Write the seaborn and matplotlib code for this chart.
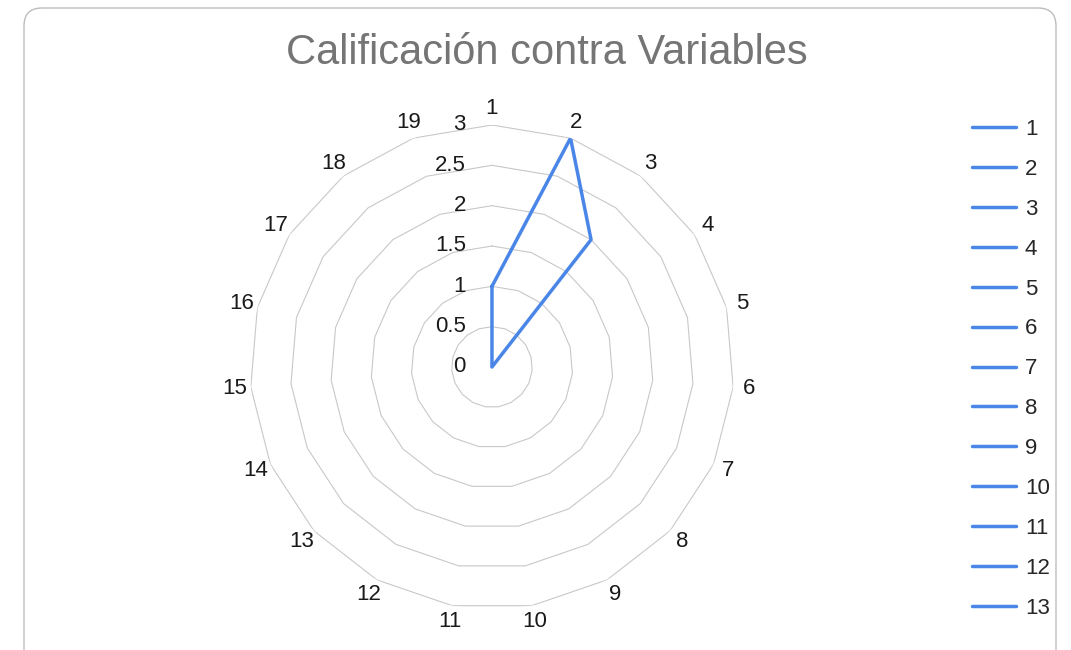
import numpy as np
import pandas as pd
import seaborn as sns
import matplotlib.pyplot as plt
from matplotlib.patches import FancyBboxPatch

# data
variables = [str(i) for i in range(1, 20)]
series = [str(i) for i in range(1, 14)]
serie_1 = [1, 3, 2, 0, 0, 0, 0, 0, 0, 0, 0, 0, 0, 0, 0, 0, 0, 0, 0]
otras_series = [0] * 19
r_ticks = [0, 0.5, 1, 1.5, 2, 2.5, 3]
r_tick_labels = ["0", "0.5", "1", "1.5", "2", "2.5", "3"]

blue = "#4a86e8"
grid_color = "#c8c8c8"
text_color = "#1a1a1a"

sns.set_theme(style="white")
plt.rcParams["font.family"] = ["Liberation Sans", "DejaVu Sans"]

n = len(variables)
theta = np.linspace(0, 2 * np.pi, n, endpoint=False)
theta_closed = np.append(theta, 2 * np.pi)

rows = []
for s in series:
    vals = serie_1 if s == "1" else otras_series
    vals_closed = list(vals) + [vals[0]]
    for t, v in zip(theta_closed, vals_closed):
        rows.append({"serie": s, "theta": t, "valor": v})
df = pd.DataFrame(rows)

fig = plt.figure(figsize=(10.71, 6.5), dpi=100)
ax = fig.add_axes([0.2334, 0.0631, 0.4519, 0.7446], projection="polar")
ax.set_theta_zero_location("N")
ax.set_theta_direction(-1)
ax.set_ylim(0, 3)
ax.grid(False)
ax.spines["polar"].set_visible(False)
ax.set_xticks([])
ax.set_yticks([])
ax.set_facecolor("none")

# polygon gridlines
for r in r_ticks[1:]:
    ax.plot(theta_closed, [r] * len(theta_closed), color=grid_color, lw=0.8, zorder=1)

sns.lineplot(
    data=df, x="theta", y="valor", hue="serie", hue_order=series,
    palette={s: blue for s in series}, sort=False, estimator=None,
    lw=2.5, ax=ax, legend=False, zorder=3,
)
ax.set_xlabel("")
ax.set_ylabel("")

# category labels
for t, lab in zip(theta, variables):
    ax.text(t, 3.2, lab, ha="center", va="center", fontsize=16, color=text_color)

# radial labels
for r, lab in zip(r_ticks, r_tick_labels):
    ax.annotate(lab, xy=(0, r), xytext=(-26, 0), textcoords="offset pixels",
                ha="right", va="center", fontsize=16, color=text_color)

fig.text(0.511, 1 - 53 / 650, "Calificación contra Variables", ha="center", va="center",
         fontsize=30, color="#757575")

handles = [plt.Line2D([], [], color=blue, lw=2.5) for _ in series]
fig.legend(handles, series, loc="upper left", bbox_to_anchor=(972 / 1071, 1 - 119 / 650),
           frameon=False, fontsize=16, handlelength=2.0, handletextpad=0.38,
           labelspacing=0.85, borderpad=0, borderaxespad=0)

border = FancyBboxPatch((24, -30), 1032, 672, boxstyle="round,pad=0,rounding_size=18",
                        transform=None, facecolor="none", edgecolor="#bdbdbd", lw=1)
fig.patches.append(border)

fig.savefig("out.png", dpi=100)
